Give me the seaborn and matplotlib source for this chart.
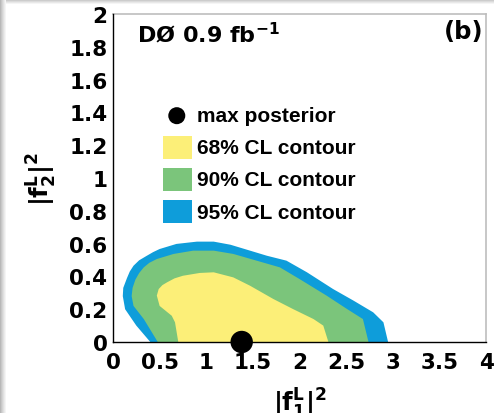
import numpy as np
import pandas as pd
import matplotlib
matplotlib.use("Agg")
import matplotlib.pyplot as plt
import seaborn as sns
from matplotlib.patches import Rectangle
from matplotlib.ticker import FixedLocator, FixedFormatter, MultipleLocator

# ---------------- data ----------------
x_ticks = [0, 0.5, 1, 1.5, 2, 2.5, 3, 3.5, 4]
x_ticklabels = ["0", "0.5", "1", "1.5", "2", "2.5", "3", "3.5", "4"]
y_ticks = [0, 0.2, 0.4, 0.6, 0.8, 1.0, 1.2, 1.4, 1.6, 1.8, 2.0]
y_ticklabels = ["0", "0.2", "0.4", "0.6", "0.8", "1", "1.2", "1.4", "1.6", "1.8", "2"]

# 95% CL contour boundary
c95_x = [0.40, 0.25, 0.13, 0.105, 0.11, 0.15, 0.18, 0.22, 0.28, 0.36, 0.43, 0.50, 0.68,
         0.90, 1.08, 1.26, 1.47, 1.65, 1.86, 2.08, 2.36, 2.58, 2.79, 2.90, 2.95]
c95_y = [0.00, 0.10, 0.20, 0.28, 0.33, 0.39, 0.43, 0.465, 0.498, 0.525, 0.548, 0.567, 0.598,
         0.612, 0.612, 0.593, 0.557, 0.526, 0.496, 0.425, 0.323, 0.252, 0.181, 0.12, 0.00]
# 90% CL contour boundary
c90_x = [0.48, 0.33, 0.22, 0.20, 0.21, 0.24, 0.28, 0.33, 0.39, 0.47, 0.65, 0.86, 1.08,
         1.29, 1.54, 1.79, 2.00, 2.29, 2.51, 2.68, 2.74]
c90_y = [0.00, 0.14, 0.22, 0.28, 0.33, 0.38, 0.42, 0.455, 0.483, 0.506, 0.537, 0.557, 0.557,
         0.537, 0.496, 0.455, 0.384, 0.283, 0.201, 0.14, 0.00]
# 68% CL contour boundary
c68_x = [0.70, 0.665, 0.63, 0.50, 0.47, 0.49, 0.53, 0.58, 0.66, 0.75, 0.93, 1.08, 1.29,
         1.47, 1.72, 1.93, 2.15, 2.255, 2.31]
c68_y = [0.00, 0.12, 0.16, 0.22, 0.283, 0.323, 0.347, 0.364, 0.388, 0.404, 0.421, 0.425, 0.394,
         0.343, 0.262, 0.201, 0.14, 0.10, 0.00]

max_post_x = [1.38]
max_post_y = [0.0]

legend_labels = ["max posterior", "68% CL contour", "90% CL contour", "95% CL contour"]
col_68 = "#FCEF78"
col_90 = "#7BC57B"
col_95 = "#0E9DDA"

# ---------------- style ----------------
sns.set_theme(style="white")
plt.rcParams["font.family"] = ["DejaVu Sans"]
plt.rcParams["font.weight"] = "bold"
plt.rcParams["mathtext.fontset"] = "custom"
plt.rcParams["mathtext.rm"] = "DejaVu Sans:bold"
plt.rcParams["mathtext.it"] = "DejaVu Sans:bold"
plt.rcParams["mathtext.bf"] = "DejaVu Sans:bold"
plt.rcParams["mathtext.default"] = "rm"

fig = plt.figure(figsize=(4.94, 4.14), dpi=100)
fig.patch.set_facecolor("white")
W, H = 494, 414
ax = fig.add_axes([113 / W, 1 - 343 / H, 373 / W, 328 / H])
ax.set_facecolor("white")

# contours
ax.fill(c95_x, c95_y, color=col_95, lw=0, zorder=1)
ax.fill(c90_x, c90_y, color=col_90, lw=0, zorder=2)
ax.fill(c68_x, c68_y, color=col_68, lw=0, zorder=3)

# max posterior point
df = pd.DataFrame({"x": max_post_x, "y": max_post_y})
sns.scatterplot(data=df, x="x", y="y", ax=ax, color="black", s=260,
                edgecolor="none", zorder=10, clip_on=False, legend=False)

ax.set_xlim(0, 4)
ax.set_ylim(0, 2)

ax.xaxis.set_major_locator(FixedLocator(x_ticks))
ax.xaxis.set_major_formatter(FixedFormatter(x_ticklabels))
ax.yaxis.set_major_locator(FixedLocator(y_ticks))
ax.yaxis.set_major_formatter(FixedFormatter(y_ticklabels))
ax.xaxis.set_minor_locator(MultipleLocator(0.1))
ax.yaxis.set_minor_locator(MultipleLocator(0.04))

ax.tick_params(axis="both", which="major", direction="in", length=7, width=0.8,
               color="black", labelsize=15.5, labelcolor="black", pad=4,
               top=False, right=False)
ax.tick_params(axis="both", which="minor", direction="in", length=3.5, width=0.8,
               color="black", top=False, right=False)
ax.tick_params(axis="x", which="major", pad=7)
for lab in ax.get_xticklabels() + ax.get_yticklabels():
    lab.set_fontweight("bold")

for s in ["left", "bottom"]:
    ax.spines[s].set_color("black")
    ax.spines[s].set_linewidth(1.0)
    ax.spines[s].set_zorder(5)
for s in ["top", "right"]:
    ax.spines[s].set_color("#bdbdbd")
    ax.spines[s].set_linewidth(1.2)

ax.set_xlabel(r"$|f^{L}_{1}|^{2}$", fontsize=17.5, color="black")
ax.set_ylabel(r"$|f^{L}_{2}|^{2}$", fontsize=17.5, color="black")
ax.xaxis.label.set_va("center")
ax.yaxis.label.set_va("center")
ax.xaxis.set_label_coords(0.5, -0.185)
ax.yaxis.set_label_coords(-0.19, 0.5)

# annotations
ax.text(0.064, 0.915, r"DØ 0.9 fb$^{-1}$", transform=ax.transAxes, fontsize=16,
        fontweight="bold", color="black", va="baseline", ha="left")
ax.text(0.992, 0.927, "(b)", transform=ax.transAxes, fontsize=17.5,
        fontweight="bold", color="black", va="baseline", ha="right")

# manual legend (ROOT style)
ax.scatter([0.171], [0.690], s=150, color="black", transform=ax.transAxes,
           clip_on=False, zorder=10, edgecolor="none")
box_y = [0.558, 0.459, 0.362]
for by, c in zip(box_y, [col_68, col_90, col_95]):
    ax.add_patch(Rectangle((0.134, by), 0.078, 0.07, transform=ax.transAxes,
                           facecolor=c, edgecolor="none", zorder=10))
text_y = [0.692, 0.594, 0.494, 0.396]
for ty, lab in zip(text_y, legend_labels):
    ax.text(0.225, ty, lab, transform=ax.transAxes, fontsize=15,
            family=["Liberation Sans", "DejaVu Sans"],
            fontweight="bold", color="black", va="center", ha="left")

# slide-frame shadow at left and top edges
for i, g in enumerate([0.72, 0.78, 0.83, 0.88, 0.92, 0.96]):
    fig.patches.append(Rectangle((i / W, 0), 1.2 / W, 1, transform=fig.transFigure,
                                 facecolor=str(g), edgecolor="none", zorder=0))
for i, g in enumerate([0.74, 0.8, 0.86, 0.91, 0.96]):
    fig.patches.append(Rectangle((6 / W, 1 - (i + 1) / H), 1, 1.1 / H,
                                 transform=fig.transFigure,
                                 facecolor=str(g), edgecolor="none", zorder=0))

fig.savefig("out.png", dpi=100, facecolor="white")
